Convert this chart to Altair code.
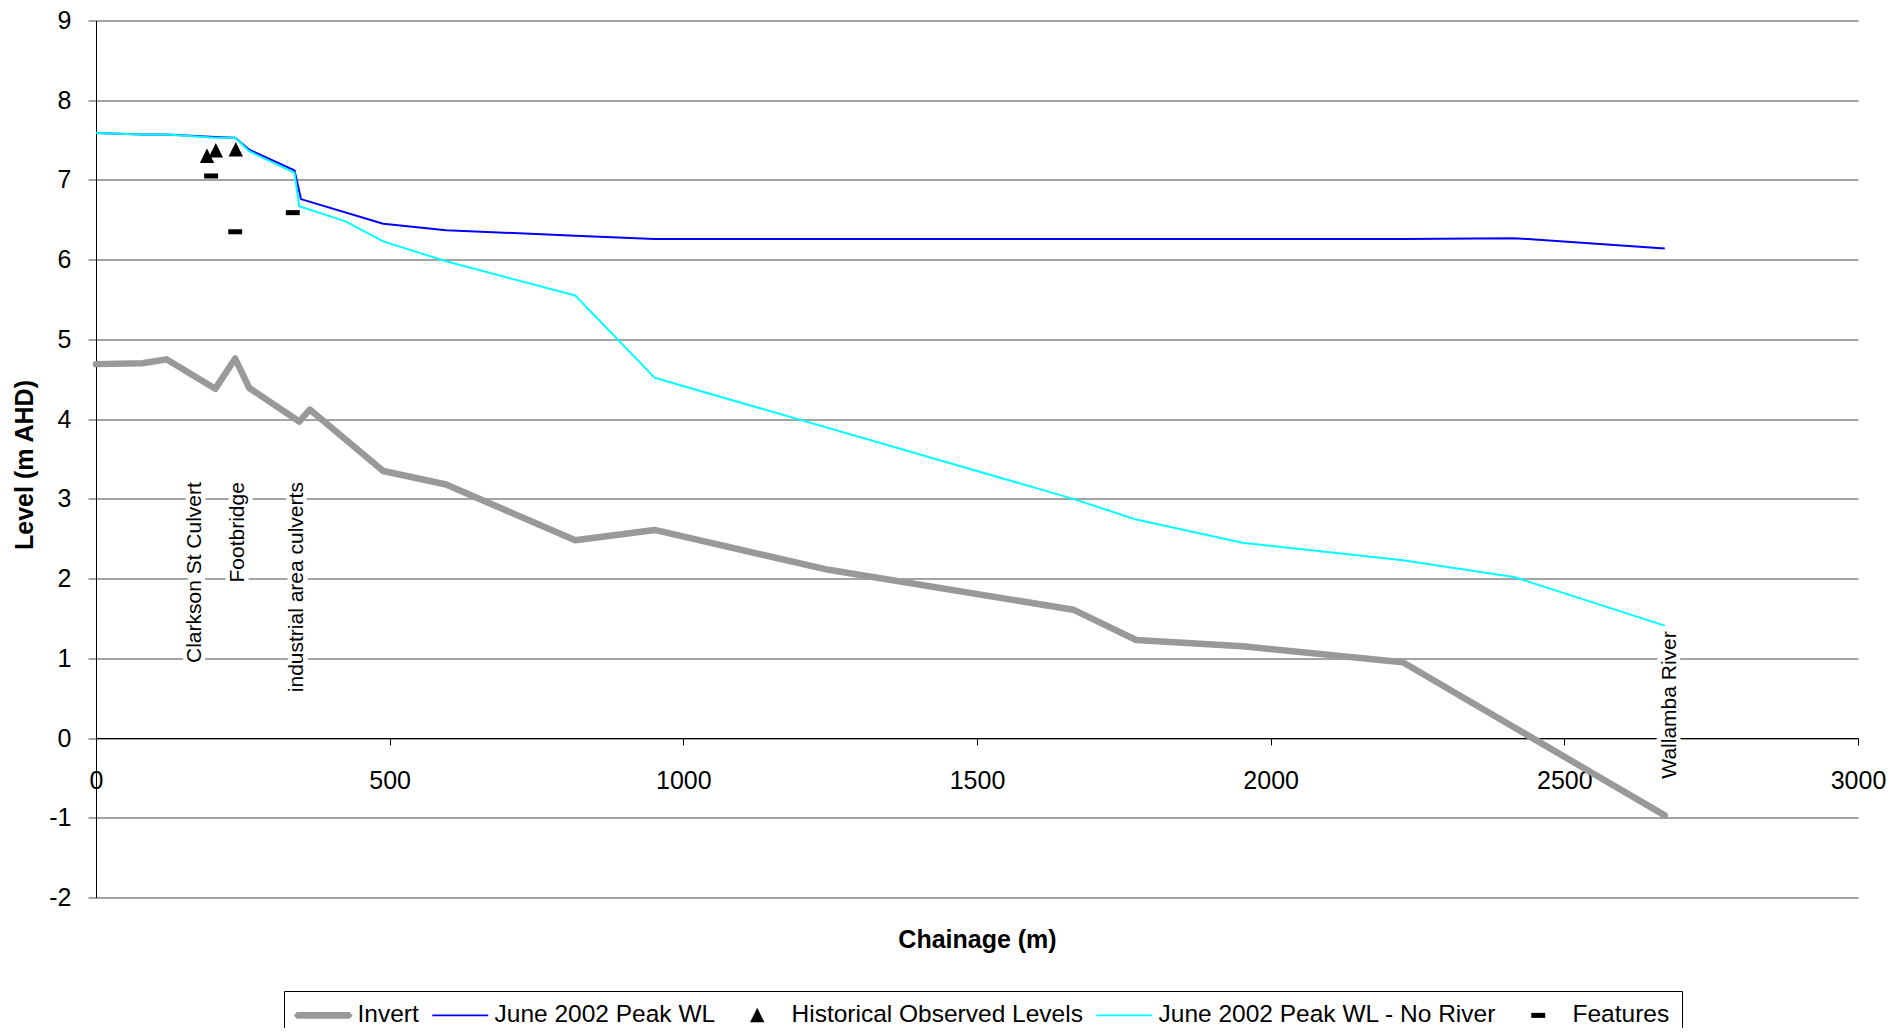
import altair as alt
import pandas as pd

FONT = "Liberation Sans"

series_names = ["Invert", "June 2002 Peak WL", "Historical Observed Levels",
                "June 2002 Peak WL - No River", "Features"]
series_colors = ["#999999", "#0000ff", "#000000", "#00ffff", "#000000"]

invert_ch = [0, 79, 120, 203, 237, 261, 346, 364, 489, 596, 816, 951, 1247, 1664, 1771, 1952, 2225, 2671]
invert_lv = [4.69, 4.70, 4.75, 4.38, 4.76, 4.39, 3.97, 4.12, 3.35, 3.18, 2.48, 2.61, 2.11, 1.61, 1.23, 1.15, 0.95, -0.97]

peak_ch = [0, 79, 120, 203, 237, 261, 338, 349, 489, 596, 816, 951, 1247, 1664, 1771, 1952, 2225, 2414, 2671]
peak_lv = [7.59, 7.57, 7.57, 7.54, 7.53, 7.38, 7.12, 6.76, 6.45, 6.37, 6.30, 6.26, 6.26, 6.26, 6.26, 6.26, 6.26, 6.27, 6.14]

noriver_ch = [0, 79, 120, 203, 237, 261, 338, 346, 425, 489, 596, 816, 951, 1664, 1771, 1952, 2225, 2414, 2671]
noriver_lv = [7.59, 7.57, 7.57, 7.53, 7.53, 7.36, 7.09, 6.67, 6.48, 6.23, 5.98, 5.55, 4.52, 3.00, 2.74, 2.45, 2.23, 2.02, 1.41]

hist_ch = [189, 204, 238]
hist_lv = [7.30, 7.37, 7.38]

feat_ch = [196, 237, 335]
feat_lv = [7.05, 6.35, 6.59]

label_text = ["Clarkson St Culvert", "Footbridge", "industrial area culverts", "Wallamba River"]
label_ch = [179, 252, 352, 2690]
label_lv = [3.21, 3.21, 3.21, 1.34]

x_ticks = [0, 500, 1000, 1500, 2000, 2500, 3000]
y_ticks = [-2, -1, 0, 1, 2, 3, 4, 5, 6, 7, 8, 9]

# legend / point symbols (custom paths, unit = half of sqrt(size) = 12 px)
SYM_SIZE = 576
series_shapes = [
    "M-2.2,-0.28H2.2L2.45,0L2.2,0.28H-2.2L-2.45,0Z",
    "M-2.33,-0.08H2.33V0.08H-2.33Z",
    "M-2.33,0M2.33,0M0,-0.63L0.6,0.58L-0.6,0.58Z",
    "M-2.33,-0.08H2.33V0.08H-2.33Z",
    "M-2.33,0M2.33,0M-0.58,-0.21H0.58V0.21H-0.58Z",
]

df_inv = pd.DataFrame({"ch": invert_ch, "lv": invert_lv})
df_peak = pd.DataFrame({"ch": peak_ch, "lv": peak_lv})
df_nr = pd.DataFrame({"ch": noriver_ch, "lv": noriver_lv})
df_pts = pd.DataFrame({
    "ch": hist_ch + feat_ch,
    "lv": hist_lv + feat_lv,
    "series": [series_names[2]] * len(hist_ch) + [series_names[4]] * len(feat_ch),
})
df_lab = pd.DataFrame({"ch": label_ch, "lv": label_lv, "txt": label_text})

x_scale = alt.Scale(domain=[0, 3000], nice=False, zero=False)
y_scale = alt.Scale(domain=[-2, 9], nice=False, zero=False)

GRID = "#484848"

x_axis = alt.Axis(values=x_ticks, grid=False, offset=-159.5, domainColor="black",
                  domainWidth=1, tickColor="black", tickSize=7, labelFontSize=25,
                  labelColor="black", labelPadding=23, labelFont=FONT, labelFlush=False,
                  labelExpr="'' + datum.value",
                  title="Chainage (m)", titleFontSize=25, titleFont=FONT,
                  titleFontWeight="bold", titleColor="black", titleY=209,
                  titleBaseline="alphabetic", zindex=0)
y_axis = alt.Axis(values=y_ticks, grid=True, gridColor=GRID, gridWidth=1,
                  domainColor="black", domainWidth=1, tickColor=GRID, tickSize=8,
                  labelFontSize=25, labelColor="black", labelPadding=17, labelFont=FONT,
                  labelExpr="'' + datum.value", labelFlush=False,
                  title="Level (m AHD)", titleFontSize=25, titleFont=FONT,
                  titleFontWeight="bold", titleColor="black", titleAngle=270,
                  titleX=-63.5, titleY=444, titleBaseline="alphabetic", titleAlign="center",
                  zindex=0)

X = alt.X("ch:Q", scale=x_scale, axis=x_axis)
Y = alt.Y("lv:Q", scale=y_scale, axis=y_axis)

inv = alt.Chart(df_inv).mark_line(color=series_colors[0], strokeWidth=6.5,
                                  strokeCap="round", strokeJoin="round").encode(x=X, y=Y)
peak = alt.Chart(df_peak).mark_line(color=series_colors[1], strokeWidth=2,
                                    strokeJoin="round").encode(x=X, y=Y)
nr = alt.Chart(df_nr).mark_line(color=series_colors[3], strokeWidth=2,
                                strokeJoin="round").encode(x=X, y=Y)

leg = alt.Legend(title=None, orient="none", legendX=188, legendY=970.5,
                 direction="horizontal", columns=5, symbolSize=SYM_SIZE,
                 symbolOffset=15, labelOffset=22,
                 labelFont=FONT, labelFontSize=24.5, labelColor="black", labelLimit=1000,
                 columnPadding=13, padding=12, strokeColor="black",
                 fillColor="white", symbolStrokeWidth=0, symbolOpacity=1)

pts = alt.Chart(df_pts).mark_point(filled=True, opacity=1, size=SYM_SIZE, strokeWidth=0).encode(
    x=X, y=Y,
    color=alt.Color("series:N", scale=alt.Scale(domain=series_names, range=series_colors), legend=leg),
    shape=alt.Shape("series:N", scale=alt.Scale(domain=series_names, range=series_shapes), legend=leg),
)

halo = alt.Chart(df_lab).mark_text(angle=270, align="right", baseline="alphabetic",
                                   fontSize=21, font=FONT, color="white", stroke="white",
                                   strokeWidth=9, strokeJoin="round").encode(x=X, y=Y, text="txt:N")
labs = alt.Chart(df_lab).mark_text(angle=270, align="right", baseline="alphabetic",
                                   fontSize=21, font=FONT, color="black").encode(x=X, y=Y, text="txt:N")

chart = alt.layer(inv, peak, nr, pts, halo, labs).properties(
    width=1762, height=877,
    autosize=alt.AutoSizeParams(type="none"),
    padding={"left": 88, "top": 12.5, "right": 28, "bottom": 130.5},
).configure(font=FONT).configure_view(strokeWidth=0)

chart.save("out.html", embed_options={"renderer": "svg", "actions": False})
